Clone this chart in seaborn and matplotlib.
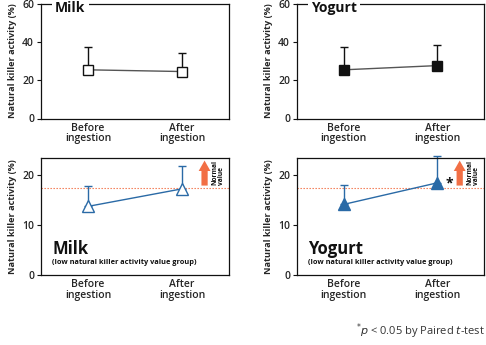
import numpy as np
import pandas as pd
import matplotlib
matplotlib.use("Agg")
import matplotlib.pyplot as plt
import seaborn as sns

# Timepoints and measurements (mean, mean + SD)
timepoints = ["Before\ningestion", "After\ningestion"]
milk_all_mean = [25.4, 24.5]
milk_all_sd = [11.9, 9.9]
yogurt_all_mean = [25.4, 27.6]
yogurt_all_sd = [11.9, 10.9]
milk_low_mean = [13.7, 17.2]
milk_low_sd = [4.0, 4.5]
yogurt_low_mean = [14.1, 18.4]
yogurt_low_sd = [3.8, 5.3]
normal_value = 17.3

sns.set_theme(style="white")
plt.rcParams["font.family"] = ["Open Sans", "DejaVu Sans"]

BLUE = "#2a6aa6"
ORANGE = "#f26f45"
INK = "#111111"

fig = plt.figure(figsize=(4.86, 3.45), dpi=100)
W, H = 486, 345


def add_axes(left, top, right, bottom):
    return fig.add_axes([left / W, 1 - bottom / H, (right - left) / W, (bottom - top) / H])


ax_tl = add_axes(41, 3.5, 229, 118.5)
ax_tr = add_axes(297, 3.5, 484, 118.5)
ax_bl = add_axes(41, 158.3, 229, 275)
ax_br = add_axes(297, 158.3, 484, 275)

x = np.arange(len(timepoints))


def style_axes(ax, ylim, yticks):
    ax.set_xlim(-0.5, 1.5)
    ax.set_ylim(*ylim)
    ax.set_yticks(yticks)
    ax.set_xticks(x)
    ax.set_xticklabels(timepoints, fontsize=7.5, fontweight="semibold", linespacing=0.95)
    ax.tick_params(axis="y", labelsize=7.5, length=3, width=0.8, pad=2, left=True, color=INK)
    ax.tick_params(axis="x", length=0, pad=3)
    for lbl in ax.get_yticklabels():
        lbl.set_fontweight("semibold")
    for s in ax.spines.values():
        s.set_color(INK)
        s.set_linewidth(0.9)
    ax.set_ylabel("Natural killer activity (%)", fontsize=6.6, fontweight="bold", labelpad=4)
    ax.grid(False)


def draw_series(ax, mean, sd, marker, face, edge, line_color, err_color, msize):
    df = pd.DataFrame({"t": x, "v": mean})
    ax.errorbar(x, mean, yerr=[np.zeros(len(sd)), sd], fmt="none", ecolor=err_color,
                elinewidth=1.0, capsize=3, capthick=1.0, zorder=2, clip_on=False)
    sns.lineplot(data=df, x="t", y="v", ax=ax, color=line_color, linewidth=1.0,
                 marker=None, zorder=3)
    ax.plot(x, mean, linestyle="none", marker=marker, markersize=msize,
            markerfacecolor=face, markeredgecolor=edge, markeredgewidth=1.0, zorder=4,
            clip_on=False)
    ax.set_xlabel("")


# Top row: all subjects
for ax, mean, sd, face, title in [
    (ax_tl, milk_all_mean, milk_all_sd, "white", "Milk"),
    (ax_tr, yogurt_all_mean, yogurt_all_sd, INK, "Yogurt"),
]:
    draw_series(ax, mean, sd, "s", face, INK, "#555555", INK, 7)
    style_axes(ax, (0, 60), [0, 20, 40, 60])
    ax.text(0.075, 1.02, title, transform=ax.transAxes, fontsize=10, fontweight="bold",
            ha="left", va="top", color=INK, clip_on=False, zorder=5,
            bbox=dict(facecolor="white", edgecolor="none", pad=2.5))

# Bottom row: low natural killer activity value group
for ax, mean, sd, face, title in [
    (ax_bl, milk_low_mean, milk_low_sd, "white", "Milk"),
    (ax_br, yogurt_low_mean, yogurt_low_sd, BLUE, "Yogurt"),
]:
    draw_series(ax, mean, sd, "^", face, BLUE, BLUE, BLUE, 8)
    style_axes(ax, (0, 23.3), [0, 10, 20])
    ax.axhline(normal_value, color=ORANGE, linestyle=(0, (1.2, 1.5)), linewidth=0.8, zorder=1)
    ax.annotate("", xy=(1.24, 23.4), xytext=(1.24, normal_value),
                arrowprops=dict(arrowstyle="simple,head_length=0.75,head_width=0.85,tail_width=0.45",
                                mutation_scale=10, color=ORANGE, lw=0),
                annotation_clip=False, zorder=3)
    ax.text(1.385, 22.9, "Normal\nvalue", rotation=90, fontsize=4.8, fontweight="bold",
            ha="center", va="top", color=INK, linespacing=0.9, multialignment="left")
    ax.text(0.06, 0.22, title, transform=ax.transAxes, fontsize=12, fontweight="bold",
            ha="left", va="center", color=INK)
    ax.text(0.06, 0.11, "(low natural killer activity value group)", transform=ax.transAxes,
            fontsize=5.3, fontweight="bold", ha="left", va="center", color=INK)

# Significance mark on the yogurt group after ingestion
ax_br.text(1.09, yogurt_low_mean[1] - 0.2, "*", fontsize=10, fontweight="bold",
           ha="left", va="center", color=INK)

fig.text(0.998, 0.012, r"$^{*}$$\it{p}$ < 0.05 by Paired $\it{t}$-test", ha="right", va="bottom",
         fontsize=8, color="#333333")

fig.savefig("out.png", dpi=100, facecolor="white")
